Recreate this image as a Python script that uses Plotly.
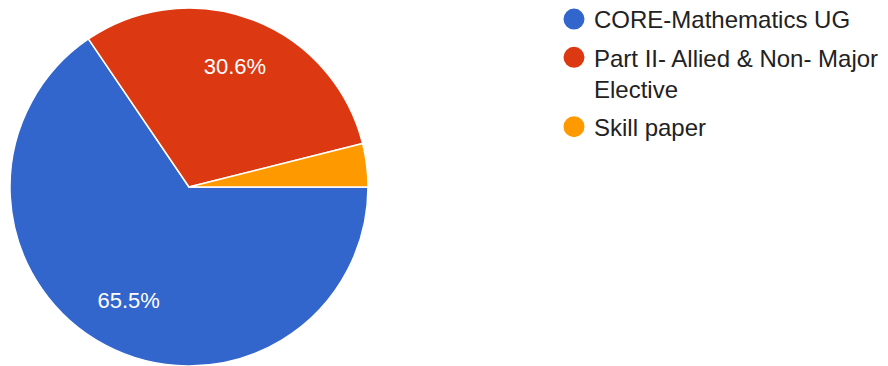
import plotly.graph_objects as go

categories = ["CORE-Mathematics UG", "Part II- Allied & Non- Major<br>Elective", "Skill paper"]
values = [65.5, 30.6, 3.9]
colors = ["#3366CC", "#DC3912", "#FF9900"]
label_templates = ["%{percent:.1%}", "%{percent:.1%}", ""]

W, H = 888, 366
FONT = "Arial, Liberation Sans, sans-serif"
DOMAIN = dict(x=[10 / W, 368 / W], y=[0, 358 / H])

fig = go.Figure()
# slices
fig.add_trace(go.Pie(
    labels=categories, values=values, sort=False, direction="clockwise", rotation=90,
    marker=dict(colors=colors, line=dict(color="white", width=1.5)),
    textinfo="none", showlegend=False, hoverinfo="skip", domain=DOMAIN,
))
# percentage labels (transparent ring so text sits at ~0.72 R)
fig.add_trace(go.Pie(
    labels=categories, values=values, sort=False, direction="clockwise", rotation=90,
    hole=0.44,
    marker=dict(colors=["rgba(0,0,0,0)"] * 3, line=dict(width=0)),
    texttemplate=label_templates, textposition="inside", insidetextorientation="horizontal",
    textfont=dict(family=FONT, size=22, color="white"),
    showlegend=False, hoverinfo="skip", domain=DOMAIN,
))
for i, (name, c) in enumerate(zip(categories, colors)):
    fig.add_trace(go.Scatter(
        x=[None], y=[None], mode="markers", name=name, legendgroup=f"g{i}",
        marker=dict(color=c, size=16, line=dict(color=c, width=5), symbol="circle"),
    ))

fig.update_layout(
    width=W, height=H, margin=dict(l=0, r=0, t=0, b=0, autoexpand=False),
    paper_bgcolor="white", plot_bgcolor="white",
    xaxis=dict(visible=False), yaxis=dict(visible=False),
    legend=dict(x=554 / W, y=1 + 3 / H, xanchor="left", yanchor="top", tracegroupgap=4,
                valign="top",
                font=dict(family=FONT, size=24, color="#222222"), bgcolor="rgba(0,0,0,0)"),
    showlegend=True,
)
fig.write_html("out.html", config={"displayModeBar": False},
               post_script="document.body.style.margin='0';")
